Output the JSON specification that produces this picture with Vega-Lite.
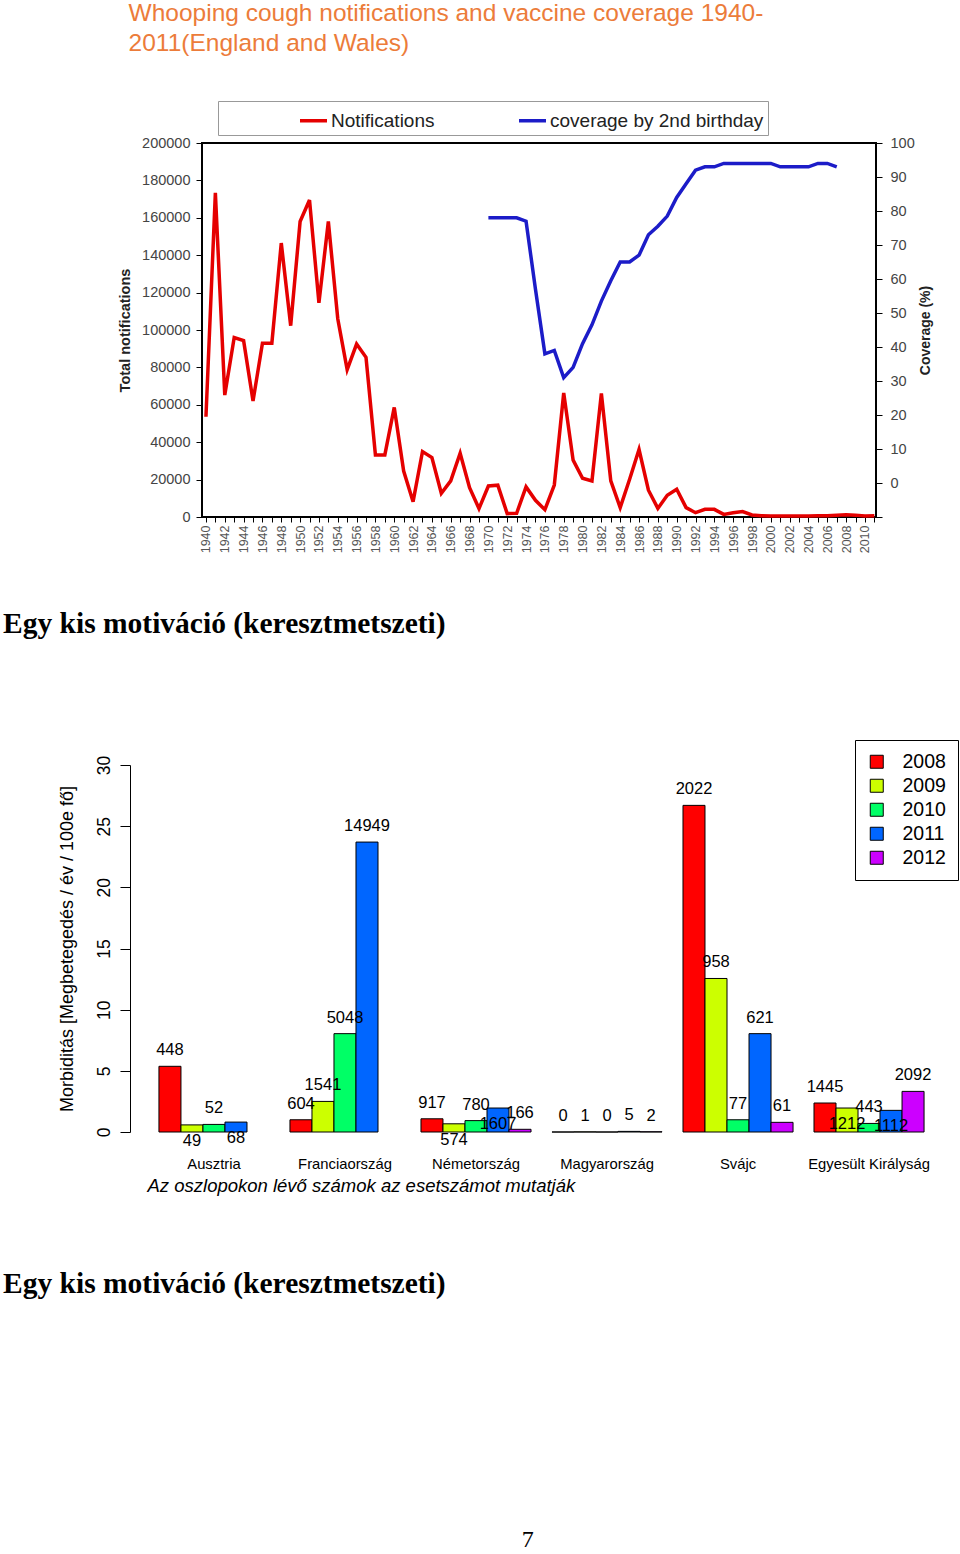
{
  "$schema": "https://vega.github.io/schema/vega-lite/v6.json",
  "background": "white",
  "padding": {"left": 3, "top": 0, "right": 0, "bottom": 0},
  "config": {"view": {"stroke": null}, "font": "Liberation Sans"},
  "datasets": {
    "notif": [
      {"year": 1940, "n": 53600}, {"year": 1941, "n": 173300}, {"year": 1942, "n": 65200}, {"year": 1943, "n": 96000},
      {"year": 1944, "n": 94300}, {"year": 1945, "n": 62000}, {"year": 1946, "n": 92900}, {"year": 1947, "n": 92900},
      {"year": 1948, "n": 146500}, {"year": 1949, "n": 102300}, {"year": 1950, "n": 158000}, {"year": 1951, "n": 169500},
      {"year": 1952, "n": 114500}, {"year": 1953, "n": 158000}, {"year": 1954, "n": 106000}, {"year": 1955, "n": 78800},
      {"year": 1956, "n": 92500}, {"year": 1957, "n": 85400}, {"year": 1958, "n": 33200}, {"year": 1959, "n": 33200},
      {"year": 1960, "n": 58600}, {"year": 1961, "n": 24600}, {"year": 1962, "n": 8200}, {"year": 1963, "n": 35000},
      {"year": 1964, "n": 31800}, {"year": 1965, "n": 12700}, {"year": 1966, "n": 19300}, {"year": 1967, "n": 34100},
      {"year": 1968, "n": 15700}, {"year": 1969, "n": 4500}, {"year": 1970, "n": 16600}, {"year": 1971, "n": 17000},
      {"year": 1972, "n": 1800}, {"year": 1973, "n": 2000}, {"year": 1974, "n": 16100}, {"year": 1975, "n": 8900},
      {"year": 1976, "n": 3900}, {"year": 1977, "n": 17100}, {"year": 1978, "n": 66300}, {"year": 1979, "n": 30400},
      {"year": 1980, "n": 20700}, {"year": 1981, "n": 19300}, {"year": 1982, "n": 66100}, {"year": 1983, "n": 19300},
      {"year": 1984, "n": 5000}, {"year": 1985, "n": 20200}, {"year": 1986, "n": 36100}, {"year": 1987, "n": 14300},
      {"year": 1988, "n": 4600}, {"year": 1989, "n": 11600}, {"year": 1990, "n": 14800}, {"year": 1991, "n": 5000},
      {"year": 1992, "n": 2300}, {"year": 1993, "n": 4100}, {"year": 1994, "n": 4100}, {"year": 1995, "n": 1400},
      {"year": 1996, "n": 2300}, {"year": 1997, "n": 2900}, {"year": 1998, "n": 1100}, {"year": 1999, "n": 700},
      {"year": 2000, "n": 500}, {"year": 2001, "n": 600}, {"year": 2002, "n": 500}, {"year": 2003, "n": 500},
      {"year": 2004, "n": 600}, {"year": 2005, "n": 700}, {"year": 2006, "n": 700}, {"year": 2007, "n": 900},
      {"year": 2008, "n": 1200}, {"year": 2009, "n": 1000}, {"year": 2010, "n": 500}, {"year": 2011, "n": 700}
    ],
    "cov": [
      {"year": 1970, "c": 78}, {"year": 1971, "c": 78}, {"year": 1972, "c": 78}, {"year": 1973, "c": 78},
      {"year": 1974, "c": 77}, {"year": 1975, "c": 57}, {"year": 1976, "c": 38}, {"year": 1977, "c": 39},
      {"year": 1978, "c": 31}, {"year": 1979, "c": 34}, {"year": 1980, "c": 41}, {"year": 1981, "c": 46.5},
      {"year": 1982, "c": 53.5}, {"year": 1983, "c": 59.5}, {"year": 1984, "c": 65}, {"year": 1985, "c": 65},
      {"year": 1986, "c": 67}, {"year": 1987, "c": 73}, {"year": 1988, "c": 75.5}, {"year": 1989, "c": 78.5},
      {"year": 1990, "c": 84}, {"year": 1991, "c": 88}, {"year": 1992, "c": 92}, {"year": 1993, "c": 93},
      {"year": 1994, "c": 93}, {"year": 1995, "c": 94}, {"year": 1996, "c": 94}, {"year": 1997, "c": 94},
      {"year": 1998, "c": 94}, {"year": 1999, "c": 94}, {"year": 2000, "c": 94}, {"year": 2001, "c": 93},
      {"year": 2002, "c": 93}, {"year": 2003, "c": 93}, {"year": 2004, "c": 93}, {"year": 2005, "c": 94},
      {"year": 2006, "c": 94}, {"year": 2007, "c": 93}
    ],
    "bars": [
      {"country": "Ausztria", "year": "2008", "m": 5.37, "cases": 448},
      {"country": "Ausztria", "year": "2009", "m": 0.58, "cases": 49},
      {"country": "Ausztria", "year": "2010", "m": 0.62, "cases": 52},
      {"country": "Ausztria", "year": "2011", "m": 0.81, "cases": 68},
      {"country": "Franciaország", "year": "2008", "m": 1.0, "cases": 604},
      {"country": "Franciaország", "year": "2009", "m": 2.5, "cases": 1541},
      {"country": "Franciaország", "year": "2010", "m": 8.04, "cases": 5048},
      {"country": "Franciaország", "year": "2011", "m": 23.7, "cases": 14949},
      {"country": "Németország", "year": "2008", "m": 1.08, "cases": 917},
      {"country": "Németország", "year": "2009", "m": 0.67, "cases": 574},
      {"country": "Németország", "year": "2010", "m": 0.93, "cases": 780},
      {"country": "Németország", "year": "2011", "m": 1.96, "cases": 1607},
      {"country": "Németország", "year": "2012", "m": 0.22, "cases": 166},
      {"country": "Magyarország", "year": "2008", "m": 0, "cases": 0},
      {"country": "Magyarország", "year": "2009", "m": 0.01, "cases": 1},
      {"country": "Magyarország", "year": "2010", "m": 0, "cases": 0},
      {"country": "Magyarország", "year": "2011", "m": 0.05, "cases": 5},
      {"country": "Magyarország", "year": "2012", "m": 0.02, "cases": 2},
      {"country": "Svájc", "year": "2008", "m": 26.7, "cases": 2022},
      {"country": "Svájc", "year": "2009", "m": 12.55, "cases": 958},
      {"country": "Svájc", "year": "2010", "m": 1.0, "cases": 77},
      {"country": "Svájc", "year": "2011", "m": 8.04, "cases": 621},
      {"country": "Svájc", "year": "2012", "m": 0.79, "cases": 61},
      {"country": "Egyesült Királyság", "year": "2008", "m": 2.37, "cases": 1445},
      {"country": "Egyesült Királyság", "year": "2009", "m": 1.96, "cases": 1212},
      {"country": "Egyesült Királyság", "year": "2010", "m": 0.7, "cases": 443},
      {"country": "Egyesült Királyság", "year": "2011", "m": 1.77, "cases": 1112},
      {"country": "Egyesült Királyság", "year": "2012", "m": 3.32, "cases": 2092}
    ]
  },
  "title": {"text": "7", "orient": "bottom", "anchor": "middle", "frame": "bounds", "font": "Liberation Serif", "fontSize": 24, "fontWeight": "normal", "color": "black", "offset": 229, "dx": 47},
  "spacing": 55,
  "resolve": {"scale": {"color": "independent"}, "legend": {"color": "independent"}},
  "vconcat": [
    {
      "spacing": 112,
      "resolve": {"scale": {"color": "independent"}, "legend": {"color": "independent"}},
      "hconcat": [
        {"width": 1, "height": 1, "data": {"values": []}, "mark": "point"},
        {
          "width": 674,
          "height": 374,
          "title": {"text": ["Whooping cough notifications and vaccine coverage 1940-", "2011(England and Wales)"], "anchor": "start", "frame": "bounds", "dx": 11, "offset": 44, "font": "Liberation Sans", "fontSize": 24.5, "fontWeight": "normal", "color": "#ec7c3a", "lineHeight": 30},
          "view": {"stroke": "black", "strokeWidth": 2},
          "encoding": {
            "x": {
              "field": "year", "type": "quantitative",
              "scale": {"domain": [1939.58, 2011.17], "nice": false, "zero": false},
              "axis": {
                "title": null, "grid": false, "domain": false,
                "values": [1940,1941,1942,1943,1944,1945,1946,1947,1948,1949,1950,1951,1952,1953,1954,1955,1956,1957,1958,1959,1960,1961,1962,1963,1964,1965,1966,1967,1968,1969,1970,1971,1972,1973,1974,1975,1976,1977,1978,1979,1980,1981,1982,1983,1984,1985,1986,1987,1988,1989,1990,1991,1992,1993,1994,1995,1996,1997,1998,1999,2000,2001,2002,2003,2004,2005,2006,2007,2008,2009,2010,2011],
                "format": "d",
                "labelExpr": "datum.value % 2 == 0 ? datum.label : ''",
                "labelAngle": 270, "labelFontSize": 12.5, "labelColor": "#555",
                "tickSize": 5, "tickColor": "black", "labelPadding": 3, "labelOverlap": false
              }
            }
          },
          "layer": [
            {
              "data": {"name": "notif"},
              "mark": {"type": "line", "strokeWidth": 3.5},
              "encoding": {
                "y": {
                  "field": "n", "type": "quantitative",
                  "scale": {"domain": [0, 200000], "nice": false},
                  "axis": {
                    "title": "Total notifications", "values": [0,20000,40000,60000,80000,100000,120000,140000,160000,180000,200000],
                    "format": "d", "grid": false, "domain": false,
                    "labelFontSize": 14.5, "labelColor": "#444", "tickColor": "black", "tickSize": 6, "labelPadding": 6,
                    "titleFontSize": 14.5, "titleFontWeight": "bold", "titleColor": "#222", "titlePadding": 9
                  }
                },
                "color": {
                  "datum": "Notifications", "type": "nominal",
                  "scale": {"domain": ["Notifications", "coverage by 2nd birthday"], "range": ["#e50000", "#1c1cc8"]},
                  "legend": {
                    "orient": "none", "legendX": 16, "legendY": -42, "direction": "horizontal",
                    "title": "\u00a0",
                    "titleOrient": "left", "titleFontSize": 19, "titlePadding": 76,
                    "labelFontSize": 19, "labelColor": "#222", "labelLimit": 400, "labelOffset": 2,
                    "symbolType": "stroke", "symbolSize": 729, "symbolStrokeWidth": 3.5,
                    "columnPadding": 77, "padding": 4, "strokeColor": "#999", "fillColor": "white"
                  }
                }
              }
            },
            {
              "data": {"name": "cov"},
              "mark": {"type": "line", "strokeWidth": 3.5},
              "encoding": {
                "y": {
                  "field": "c", "type": "quantitative",
                  "scale": {"domain": [-10, 100], "nice": false},
                  "axis": {
                    "orient": "right", "title": "Coverage (%)",
                    "values": [-10,0,10,20,30,40,50,60,70,80,90,100],
                    "labelExpr": "datum.value < 0 ? '' : datum.label",
                    "grid": false, "domain": false,
                    "labelFontSize": 14.5, "labelColor": "#444", "tickColor": "black", "tickSize": 6, "labelPadding": 8,
                    "titleFontSize": 14, "titleFontWeight": "bold", "titleColor": "#222", "titleAngle": 270, "titlePadding": 18
                  }
                },
                "color": {"datum": "coverage by 2nd birthday", "type": "nominal"}
              }
            }
          ],
          "resolve": {"scale": {"y": "independent"}}
        }
      ]
    },
    {
      "title": {"text": "Egy kis motiváció (keresztmetszeti)", "orient": "bottom", "anchor": "start", "frame": "bounds", "dx": 0, "offset": 75, "font": "Liberation Serif", "fontSize": 29.5, "fontWeight": "bold", "color": "black"},
      "vconcat": [
        {
          "title": {"text": "Egy kis motiváció (keresztmetszeti)", "orient": "top", "anchor": "start", "frame": "bounds", "dx": 0, "offset": 100, "font": "Liberation Serif", "fontSize": 29.5, "fontWeight": "bold", "color": "black"},
          "spacing": 54,
          "resolve": {"scale": {"color": "independent"}, "legend": {"color": "independent"}},
          "hconcat": [
            {"width": 1, "height": 1, "data": {"values": []}, "mark": "point"},
            {
              "data": {"name": "bars"},
              "width": 823,
              "height": 367,
              "encoding": {
                "x": {
                  "field": "country", "type": "nominal",
                  "sort": ["Ausztria", "Franciaország", "Németország", "Magyarország", "Svájc", "Egyesült Királyság"],
                  "scale": {"paddingInner": 0.16, "paddingOuter": 0.221},
                  "axis": {
                    "title": "Az oszlopokon lévő számok az esetszámot mutatják",
                    "titleFontStyle": "italic", "titleFontWeight": "normal", "titleFontSize": 18.5, "titleColor": "black",
                    "titleAnchor": "start", "titleAlign": "left", "titleX": 17, "titlePadding": 6,
                    "labelAngle": 0, "labelFontSize": 14.8, "labelColor": "black", "labelPadding": 24,
                    "domain": false, "ticks": false, "grid": false
                  }
                },
                "xOffset": {"field": "year", "type": "nominal", "scale": {"domain": ["2008", "2009", "2010", "2011", "2012"], "paddingInner": 0, "paddingOuter": 0}},
                "y": {
                  "field": "m", "type": "quantitative",
                  "scale": {"domain": [0, 30], "nice": false},
                  "axis": {
                    "title": "Morbiditás [Megbetegedés / év / 100e fő]", "values": [0, 5, 10, 15, 20, 25, 30],
                    "grid": false, "labelAngle": 270, "labelFontSize": 17.5, "labelColor": "black", "labelPadding": 7,
                    "tickColor": "black", "tickSize": 10, "domainColor": "black",
                    "titleFontSize": 18, "titleFontWeight": "normal", "titleColor": "black", "titlePadding": 19
                  }
                }
              },
              "layer": [
                {
                  "mark": {"type": "bar", "stroke": "black", "strokeWidth": 1},
                  "encoding": {
                    "color": {
                      "field": "year", "type": "nominal",
                      "scale": {"domain": ["2008", "2009", "2010", "2011", "2012"], "range": ["#FF0000", "#CCFF00", "#00FF66", "#0066FF", "#CC00FF"]},
                      "legend": {
                        "orient": "none", "legendX": 725, "legendY": -25, "title": null,
                        "labelFontSize": 19.5, "labelColor": "black", "labelOffset": 16,
                        "symbolType": "square", "symbolSize": 169, "symbolStrokeColor": "black", "symbolStrokeWidth": 1, "symbolOpacity": 1,
                        "padding": 12, "rowPadding": 3, "strokeColor": "black", "fillColor": "white"
                      }
                    }
                  }
                },
                {
                  "transform": [{"filter": "!((datum.country == 'Ausztria' || datum.country == 'Németország' || datum.country == 'Egyesült Királyság') && (datum.year == '2009' || datum.year == '2011'))"}],
                  "mark": {"type": "text", "fontSize": 16.5, "baseline": "middle", "dy": -16, "color": "black"},
                  "encoding": {"text": {"field": "cases", "type": "quantitative"}}
                },
                {
                  "transform": [{"filter": "(datum.country == 'Ausztria' || datum.country == 'Németország' || datum.country == 'Egyesült Királyság') && (datum.year == '2009' || datum.year == '2011')"}],
                  "mark": {"type": "text", "fontSize": 16.5, "baseline": "middle", "dy": 16, "color": "black"},
                  "encoding": {"text": {"field": "cases", "type": "quantitative"}}
                }
              ]
            }
          ]
        }
      ]
    }
  ]
}
